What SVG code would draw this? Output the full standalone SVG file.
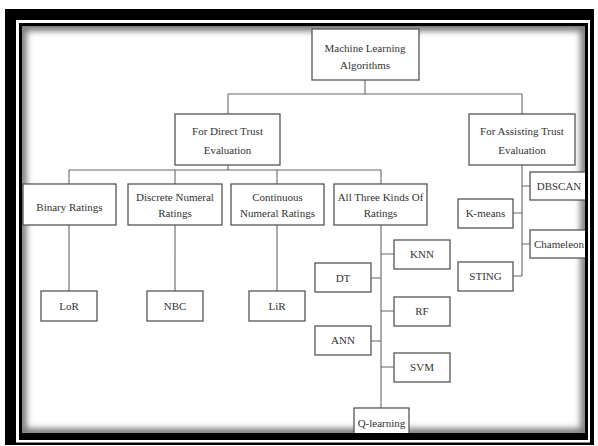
<svg xmlns="http://www.w3.org/2000/svg" width="598" height="446" viewBox="0 0 598 446">
<defs>
<clipPath id="inner"><rect x="22" y="26.5" width="563" height="406.5"/></clipPath>
<filter id="blur" x="-5%" y="-5%" width="110%" height="110%"><feGaussianBlur stdDeviation="3"/></filter>
<style>
.box{fill:#fff;stroke:#555;stroke-width:1.3}
.t{font-family:"Liberation Serif","Times New Roman",serif;font-size:11px;fill:#333;text-anchor:middle}
.c{fill:none;stroke:#666;stroke-width:1.1}
</style>
</defs>
<rect x="0" y="0" width="598" height="446" fill="#fff"/>
<rect x="5" y="9" width="589" height="436" fill="#000"/>
<rect x="16" y="20" width="574" height="422.5" fill="#fff"/>
<rect x="19" y="23" width="569" height="417" fill="#000"/>
<rect x="22" y="26.5" width="563" height="406.5" fill="#fff"/>
<g clip-path="url(#inner)">
<rect x="22" y="26.5" width="563" height="406.5" fill="none" stroke="#777" stroke-width="9" filter="url(#blur)"/>
<g id="connectors" class="c">
<path d="M365,80V94M228,94H522M228,94V114M522,94V114"/>
<path d="M228,165V170M69,170H381M69,170V184M175,170V184M277,170V184M381,170V184"/>
<path d="M69,225V291M175,225V291M277,225V291"/>
<path d="M381,225V408M381,254H394M371,278H381M381,311H394M371,341H381M381,367H394"/>
<path d="M522,165V276M522,186H530M513,213H522M522,244H530M513,276H522"/>
</g>
<g id="ml"><rect class="box" x="312" y="29" width="107" height="51"/><text class="t" x="365" y="51.5">Machine Learning</text><text class="t" x="365" y="68.5">Algorithms</text></g>
<g id="direct"><rect class="box" x="175" y="114" width="105" height="51"/><text class="t" x="227.5" y="135">For Direct Trust</text><text class="t" x="227.5" y="153.5">Evaluation</text></g>
<g id="assist"><rect class="box" x="469" y="114" width="106" height="51"/><text class="t" x="522" y="135">For Assisting Trust</text><text class="t" x="522" y="153.5">Evaluation</text></g>
<g id="binary"><rect class="box" x="23" y="184" width="93" height="41"/><text class="t" x="69.5" y="210.5">Binary Ratings</text></g>
<g id="discrete"><rect class="box" x="128" y="184" width="94" height="41"/><text class="t" x="175" y="200.5">Discrete Numeral</text><text class="t" x="175" y="216.5">Ratings</text></g>
<g id="continuous"><rect class="box" x="231" y="184" width="93" height="41"/><text class="t" x="277.5" y="200.5">Continuous</text><text class="t" x="277.5" y="216.5">Numeral Ratings</text></g>
<g id="allthree"><rect class="box" x="334" y="184" width="93" height="41"/><text class="t" x="380.5" y="200.5">All Three Kinds Of</text><text class="t" x="380.5" y="216.5">Ratings</text></g>
<g id="lor"><rect class="box" x="41" y="291" width="56" height="30"/><text class="t" x="69" y="310">LoR</text></g>
<g id="nbc"><rect class="box" x="147" y="291" width="56" height="30"/><text class="t" x="175" y="310">NBC</text></g>
<g id="lir"><rect class="box" x="249" y="291" width="56" height="30"/><text class="t" x="277" y="310">LiR</text></g>
<g id="knn"><rect class="box" x="394" y="240" width="56" height="29"/><text class="t" x="422" y="258">KNN</text></g>
<g id="dt"><rect class="box" x="315" y="263" width="56" height="29"/><text class="t" x="343" y="282">DT</text></g>
<g id="rf"><rect class="box" x="394" y="297" width="56" height="29"/><text class="t" x="422" y="315">RF</text></g>
<g id="ann"><rect class="box" x="315" y="326" width="56" height="29"/><text class="t" x="343" y="344">ANN</text></g>
<g id="svm"><rect class="box" x="394" y="353" width="56" height="29"/><text class="t" x="422" y="371">SVM</text></g>
<g id="qlearning"><rect class="box" x="354" y="408" width="55" height="29"/><text class="t" x="381.5" y="427">Q-learning</text></g>
<g id="dbscan"><rect class="box" x="530" y="172" width="57" height="28"/><text class="t" x="559" y="190">DBSCAN</text></g>
<g id="kmeans"><rect class="box" x="458" y="199" width="55" height="29"/><text class="t" x="485.5" y="217">K-means</text></g>
<g id="chameleon"><rect class="box" x="530" y="230" width="57" height="28"/><text class="t" x="559" y="248">Chameleon</text></g>
<g id="sting"><rect class="box" x="458" y="262" width="55" height="29"/><text class="t" x="485.5" y="280">STING</text></g>
</g>
</svg>
